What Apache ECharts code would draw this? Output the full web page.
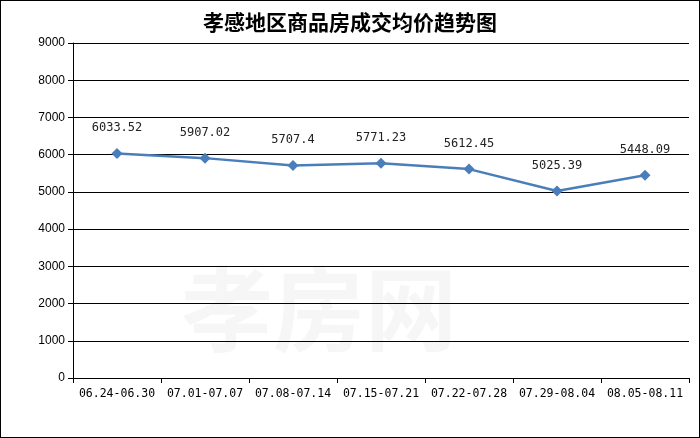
<!DOCTYPE html>
<html>
<head>
<meta charset="utf-8">
<script src="https://cdn.jsdelivr.net/npm/echarts@6/dist/echarts.min.js"></script>
<style>
  html, body { margin: 0; padding: 0; background: #fff; }
  #chart { width: 698px; height: 436px; border: 1px solid #000; }
</style>
</head>
<body>
<div id="chart"></div>
<script>
var categories = ['06.24-06.30', '07.01-07.07', '07.08-07.14', '07.15-07.21', '07.22-07.28', '07.29-08.04', '08.05-08.11'];
var prices = [6033.52, 5907.02, 5707.4, 5771.23, 5612.45, 5025.39, 5448.09];
var labels = ['6033.52', '5907.02', '5707.4', '5771.23', '5612.45', '5025.39', '5448.09'];

var myChart = echarts.init(document.getElementById('chart'));
var option = {
  animation: false,
  title: {
    text: '孝感地区商品房成交均价趋势图',
    left: 'center',
    top: 6,
    textStyle: { fontFamily: 'Noto Sans CJK SC', fontSize: 21, fontWeight: 'bold', color: '#000' }
  },
  graphic: [{
    type: 'text',
    left: 180,
    top: 262,
    style: { text: '孝房网', fontSize: 92, fontWeight: 'bold', fill: 'rgba(0,0,0,0.035)', fontFamily: 'Noto Sans CJK SC' }
  }],
  grid: { left: 72, right: 10, top: 42, bottom: 59 },
  xAxis: {
    type: 'category',
    data: categories,
    boundaryGap: true,
    axisLine: { lineStyle: { color: '#000', width: 1 } },
    axisTick: { show: true, interval: 0, lineStyle: { color: '#000' } },
    axisLabel: { interval: 0, color: '#000', fontFamily: 'DejaVu Sans Mono', fontSize: 11.5, margin: 10 }
  },
  yAxis: {
    type: 'value',
    min: 0,
    max: 9000,
    interval: 1000,
    axisLine: { show: true, lineStyle: { color: '#000' } },
    axisTick: { show: true, lineStyle: { color: '#000' } },
    axisLabel: { color: '#000', fontFamily: 'Liberation Sans', fontSize: 12, margin: 8, formatter: function (v) { return String(v); } },
    splitLine: { lineStyle: { color: '#000', width: 1 } }
  },
  series: [{
    type: 'line',
    data: prices,
    symbol: 'diamond',
    symbolSize: 11,
    lineStyle: { color: '#4A7EBB', width: 2.5 },
    itemStyle: { color: '#4A7EBB' },
    label: {
      show: true,
      position: 'top',
      distance: 14,
      color: '#222',
      fontFamily: 'DejaVu Sans Mono',
      fontSize: 12,
      formatter: function (p) { return labels[p.dataIndex]; }
    }
  }]
};
myChart.setOption(option);
</script>
</body>
</html>
